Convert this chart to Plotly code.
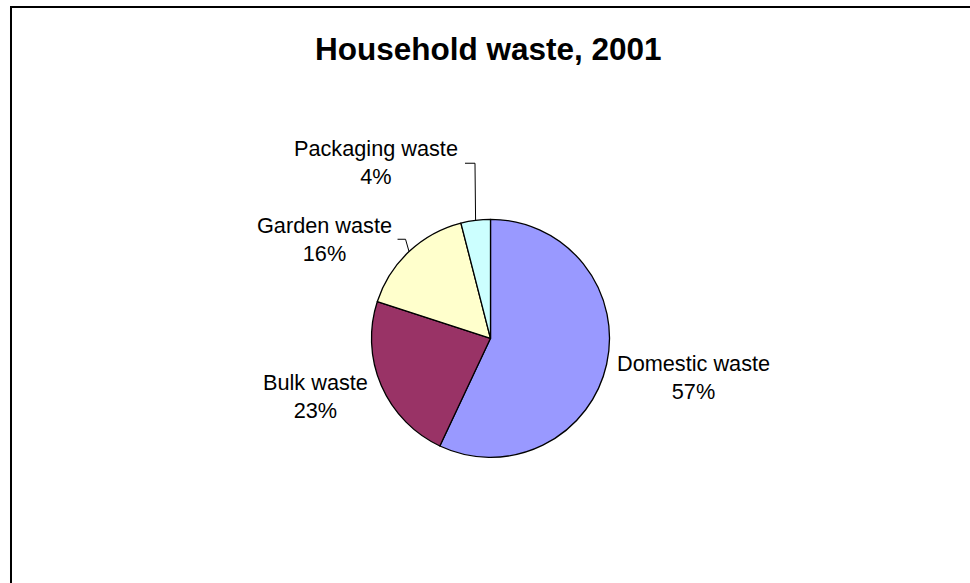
import math
import plotly.graph_objects as go

# ---- data -------------------------------------------------------------
categories = ["Domestic waste", "Bulk waste", "Garden waste", "Packaging waste"]
shares = [57, 23, 16, 4]
colors = ["#9999FF", "#993366", "#FFFFCC", "#CCFFFF"]
title_text = "Household waste, 2001"

# ---- layout geometry (pixels) -----------------------------------------
W, H = 970, 583
CX, CY, R = 490.5, 338.3, 119.0
FONT = "Arial, Liberation Sans, Helvetica, sans-serif"


def px(x):
    return x / W


def py(y):
    return 1 - y / H


fig = go.Figure(
    go.Pie(
        labels=categories,
        values=shares,
        sort=False,
        direction="clockwise",
        rotation=0,
        marker=dict(colors=colors, line=dict(color="black", width=1.3)),
        textinfo="none",
        hoverinfo="label+percent",
        showlegend=False,
        domain=dict(x=[px(CX - R), px(CX + R)], y=[py(CY + R), py(CY - R)]),
    )
)

# label placement per slice: leader-line bends (relative to the rim point),
# text offset from the last point, and which side the text hangs on
placement = [
    dict(leader=[], offset=(8.4, 13.5), anchor="left"),
    dict(leader=[], offset=(-11.3, 11.2), anchor="right"),
    dict(leader=[(-3.5, -12.3), (-11.5, -12.3)], offset=(-3.5, 0), anchor="right"),
    dict(leader=[(-0.6, -57), (-10.6, -57)], offset=(-5, -0.5), anchor="right"),
]

shapes = []
annotations = []
total = sum(shares)
cum = 0.0
for name, val, spec in zip(categories, shares, placement):
    mid = (cum + val / 2) / total * 2 * math.pi
    cum += val
    ex = CX + R * math.sin(mid)
    ey = CY - R * math.cos(mid)
    pts = [(ex, ey)] + [(ex + dx, ey + dy) for dx, dy in spec["leader"]]
    if len(pts) > 1:
        path = "M " + " L ".join(f"{px(x):.5f},{py(y):.5f}" for x, y in pts)
        shapes.append(dict(type="path", xref="paper", yref="paper", path=path,
                           line=dict(color="black", width=1)))
    lx, ly = pts[-1]
    lx += spec["offset"][0]
    ly += spec["offset"][1]
    pct = round(val / total * 100)
    annotations.append(dict(
        x=px(lx), y=py(ly), xref="paper", yref="paper",
        xanchor=spec["anchor"], yanchor="middle", align="center",
        text=f"{name}<br>{pct}%", showarrow=False,
        font=dict(family=FONT, size=21.7, color="black"),
    ))

# chart title
annotations.append(dict(
    x=px(488.5), y=py(48.7), xref="paper", yref="paper",
    xanchor="center", yanchor="middle", showarrow=False,
    text=f"<b>{title_text}</b>",
    font=dict(family=FONT, size=31.5, color="black"),
))

# chart-area frame (left and top edges)
shapes.append(dict(
    type="path", xref="paper", yref="paper",
    path=f"M {px(11):.5f},{py(H + 5):.5f} L {px(11):.5f},{py(7):.5f} L {px(W + 5):.5f},{py(7):.5f}",
    line=dict(color="black", width=2),
))

fig.update_layout(
    width=W, height=H,
    margin=dict(l=0, r=0, t=0, b=0),
    paper_bgcolor="white", plot_bgcolor="white",
    shapes=shapes, annotations=annotations,
)

fig.write_html("out.html")
